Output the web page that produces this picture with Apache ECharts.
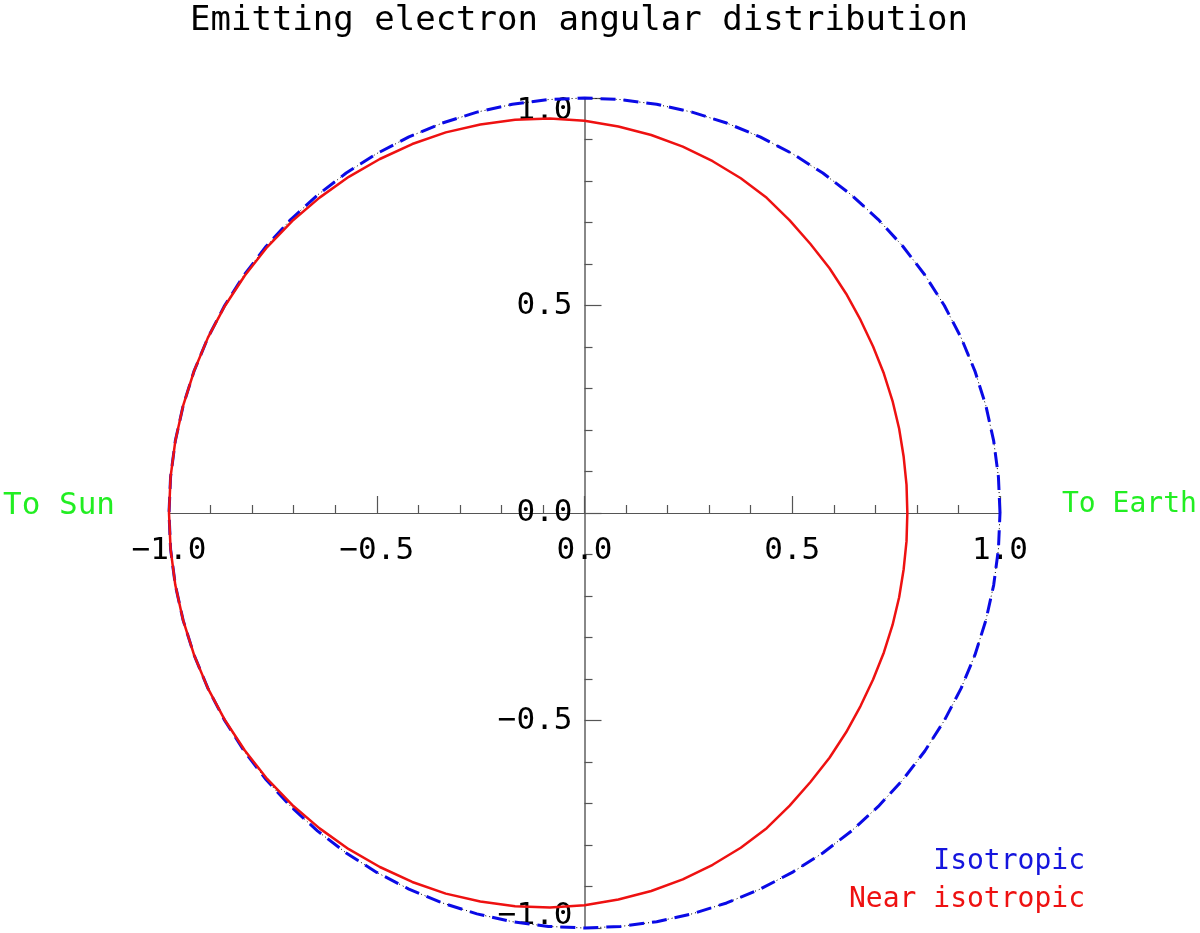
<!DOCTYPE html>
<html>
<head>
<meta charset="utf-8">
<script src="https://cdn.jsdelivr.net/npm/echarts@6/dist/echarts.min.js"></script>
<style>html,body{margin:0;padding:0;background:#fff;}#chart{width:1200px;height:933px;}</style>
</head>
<body>
<div id="chart"></div>
<script>
// Angles (degrees) measured from the +x axis ("To Earth")
const anglesDeg = [0,5,10,15,20,25,30,35,40,45,50,55,60,65,70,75,80,85,90,95,100,105,110,115,120,125,130,135,140,145,150,155,160,165,170,175,180,
                   185,190,195,200,205,210,215,220,225,230,235,240,245,250,255,260,265,270,275,280,285,290,295,300,305,310,315,320,325,330,335,340,345,350,355];
// Isotropic: unit radius everywhere
const isotropicR = [1,1,1,1,1,1,1,1,1,1,1,1,1,1,1,1,1,1,1,1,1,1,1,1,1,1,1,1,1,1,1,1,1,1,1,1,1,
                    1,1,1,1,1,1,1,1,1,1,1,1,1,1,1,1,1,1,1,1,1,1,1,1,1,1,1,1,1,1,1,1,1,1,1];
// Near isotropic: radii
const nearIsoR = [0.777,0.778,0.780,0.784,0.789,0.795,0.802,0.811,0.822,0.834,0.846,0.861,0.877,0.890,0.902,0.914,0.925,0.935,0.945,0.954,0.962,0.969,0.976,0.981,0.985,0.989,0.992,0.995,0.997,0.998,0.999,1.0,1.0,1.0,1.0,1.0,1.0,
                  1.0,1.0,1.0,1.0,1.0,0.999,0.998,0.997,0.995,0.992,0.989,0.985,0.981,0.976,0.969,0.962,0.954,0.945,0.935,0.925,0.914,0.902,0.890,0.877,0.861,0.846,0.834,0.822,0.811,0.802,0.795,0.789,0.784,0.780,0.778];
const axisTicks = [-1.0,-0.5,0.0,0.5,1.0];
const titleText = 'Emitting electron angular distribution';
const legendNames = ['Isotropic','Near isotropic'];
const sideLabels = ['To Sun','To Earth'];

function toXY(angles, radii){
  const pts = angles.map((a,i)=>{
    const t = a*Math.PI/180;
    return [radii[i]*Math.cos(t), radii[i]*Math.sin(t)];
  });
  pts.push(pts[0]);
  return pts;
}
const FONT = 'DejaVu Sans Mono';
const fmt = v => v.toFixed(1).replace('-', '\u2212');

const GRID = {left:169, right:200, top:98, bottom:5};
const W = 1200, H = 933;
const gw = W - GRID.left - GRID.right, gh = H - GRID.top - GRID.bottom;

const chart = echarts.init(document.getElementById('chart'), null, {renderer:'canvas'});
const axisCommon = {
  type:'value', min:axisTicks[0], max:axisTicks[axisTicks.length-1], interval:0.5,
  splitLine:{show:false},
  axisTick:{show:true, inside:true, length:17, lineStyle:{color:'#555', width:1.2}},
  minorTick:{show:true, splitNumber:5, length:8, lineStyle:{color:'#555', width:1.2}},
  minorSplitLine:{show:false}
};
chart.setOption({
  animation:false,
  backgroundColor:'#fff',
  grid:Object.assign({containLabel:false, outerBoundsMode:'none'}, GRID),
  xAxis:Object.assign({}, axisCommon, {
    position:'bottom', offset:-gh/2,
    axisLine:{onZero:false, lineStyle:{color:'#555', width:1.2}},
    axisLabel:{show:true, margin:22, color:'#000', fontFamily:FONT, fontSize:31, formatter:fmt,
               showMinLabel:true, showMaxLabel:true}
  }),
  yAxis:Object.assign({}, axisCommon, {
    position:'left', offset:-gw/2,
    axisLine:{onZero:false, lineStyle:{color:'#888', width:2}},
    axisLabel:{show:true, margin:12, color:'#000', fontFamily:FONT, fontSize:31,
               showMinLabel:true, showMaxLabel:true,
               formatter: v => {
                 if (v === 1) return '{top|' + fmt(v) + '}';
                 if (v === -1) return '{bot|' + fmt(v) + '}';
                 return fmt(v);
               },
               rich:{
                 top:{fontFamily:FONT, fontSize:31, color:'#000', padding:[26,0,0,0]},
                 bot:{fontFamily:FONT, fontSize:31, color:'#000', padding:[0,0,24,0]}
               }}
  }),
  series:[
    {name:'isoDots', type:'line', data:toXY(anglesDeg, isotropicR), symbol:'none', clip:false,
     lineStyle:{color:'#000', width:1, type:[1,3]}, z:2, silent:true},
    {name:legendNames[0], type:'line', data:toXY(anglesDeg, isotropicR), symbol:'none', clip:false,
     lineStyle:{color:'#0a0ae6', width:3, type:[15,8]}, z:3},
    {name:legendNames[1], type:'line', data:toXY(anglesDeg, nearIsoR), symbol:'none', clip:false,
     lineStyle:{color:'#ee1111', width:2.5}, z:4}
  ],
  graphic:[
    {type:'text', left:190, top:4, style:{text:titleText, fill:'#000', font:'34px "DejaVu Sans Mono"'}},
    {type:'text', left:3, top:490, style:{text:sideLabels[0], fill:'#22ee22', font:'31px "DejaVu Sans Mono"'}},
    {type:'text', left:1062, top:491, style:{text:sideLabels[1], fill:'#22ee22', font:'28px "DejaVu Sans Mono"'}},
    {type:'text', right:115, top:848, style:{text:legendNames[0], fill:'#1515dd', font:'28px "DejaVu Sans Mono"'}},
    {type:'text', right:115, top:886, style:{text:legendNames[1], fill:'#ee1111', font:'28px "DejaVu Sans Mono"'}}
  ]
});
</script>
</body>
</html>
